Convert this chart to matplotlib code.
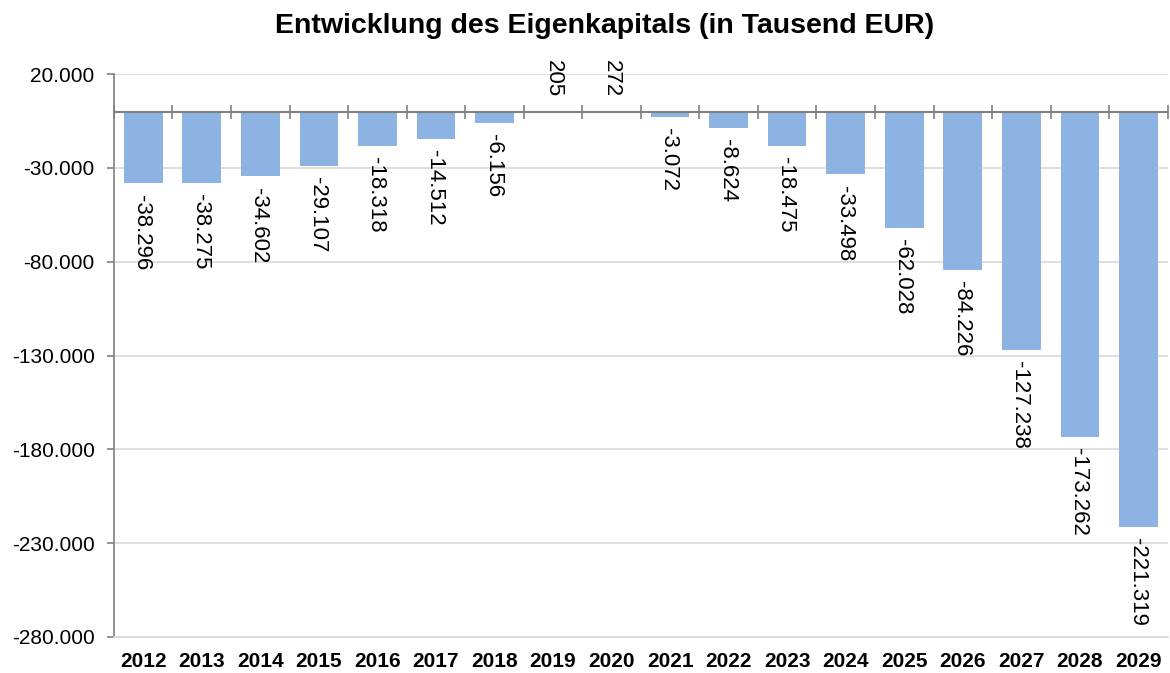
import matplotlib
matplotlib.use("Agg")
import matplotlib.pyplot as plt
from matplotlib.ticker import FuncFormatter, FixedLocator
import numpy as np

plt.rcParams['font.family'] = ['Liberation Sans', 'DejaVu Sans']

years = ["2012", "2013", "2014", "2015", "2016", "2017", "2018", "2019", "2020",
         "2021", "2022", "2023", "2024", "2025", "2026", "2027", "2028", "2029"]
equity = [-38296, -38275, -34602, -29107, -18318, -14512, -6156, 205, 272,
          -3072, -8624, -18475, -33498, -62028, -84226, -127238, -173262, -221319]
y_ticks = [20000, -30000, -80000, -130000, -180000, -230000, -280000]
title = "Entwicklung des Eigenkapitals (in Tausend EUR)"

def de_fmt(v, pos=None):
    s = f"{abs(v):,.0f}".replace(",", ".")
    return ("-" if v < 0 else "") + s

fig = plt.figure(figsize=(11.7, 6.73), dpi=100)
ax = fig.add_axes([0.0974, 0.0535, 0.9006, 0.8365])

x = np.arange(len(years))
bars = ax.bar(x, equity, width=0.66, color="#8DB3E2", zorder=3)

ax.set_xlim(-0.5, len(years) - 0.5)
ax.set_ylim(-280000, 20000)
ax.yaxis.set_major_locator(FixedLocator(y_ticks))
ax.yaxis.set_major_formatter(FuncFormatter(de_fmt))
ax.grid(axis='y', color="#D9D9D9", linewidth=1.2, zorder=0)
ax.tick_params(axis='y', labelsize=15, length=5, color="#808080", width=1.2, pad=9)

ax.set_xticks(x)
ax.set_xticklabels(years, fontsize=15, fontweight='bold')
ax.tick_params(axis='x', length=0, pad=11)

for s in ["top", "right"]:
    ax.spines[s].set_visible(False)
ax.spines["bottom"].set_color("#D9D9D9")
ax.spines["bottom"].set_linewidth(1.2)
ax.spines["left"].set_color("#808080")
ax.spines["left"].set_linewidth(1.2)

# zero axis line with category boundary ticks
ax.axhline(0, color="#808080", linewidth=1.5, zorder=4)
zero_frac = (0 - (-280000)) / (20000 - (-280000))
sec = ax.secondary_xaxis(zero_frac)
sec.set_xticks(np.arange(len(years) + 1) - 0.5)
sec.set_xticklabels([])
sec.tick_params(axis='x', direction='inout', length=10, width=1.2, color="#808080")
sec.spines["top"].set_visible(False)
sec.spines["bottom"].set_visible(False)

for xi, v in zip(x, equity):
    if v < 0:
        ax.annotate(de_fmt(v), (xi, v), xytext=(-1, -8), textcoords="offset points",
                    rotation=270, ha="center", va="top", fontsize=16, zorder=5)
    else:
        ax.annotate(de_fmt(v), (xi, v), xytext=(0, 10), textcoords="offset points",
                    rotation=270, ha="center", va="bottom", fontsize=16, zorder=5)

fig.text(0.517, 0.961, title, ha="center", va="center", fontsize=20.5, fontweight="bold")

fig.savefig("out.png", dpi=100)
